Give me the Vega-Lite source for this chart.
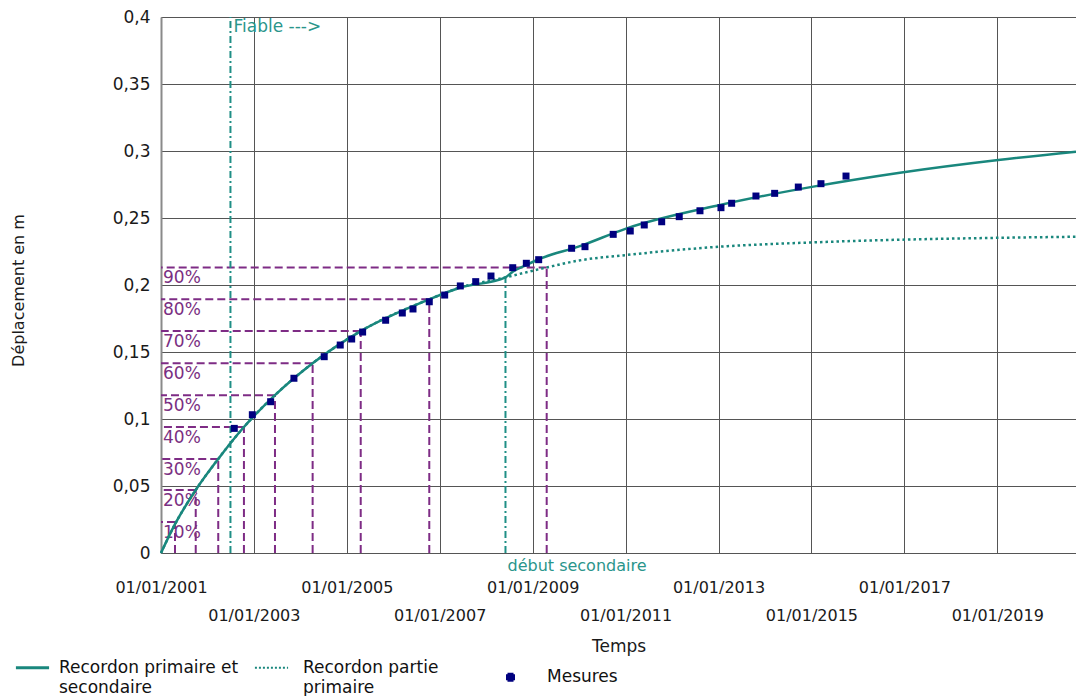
{
  "$schema": "https://vega.github.io/schema/vega-lite/v6.json",
  "width": 915,
  "height": 536,
  "autosize": {"type": "none"},
  "padding": {"left": 161, "top": 17, "right": 0, "bottom": 143},
  "background": "white",
  "config": {
    "font": "DejaVu Sans",
    "view": {"stroke": null},
    "axis": {"labelFont": "DejaVu Sans", "titleFont": "DejaVu Sans", "labelColor": "#1a1a1a", "titleColor": "#1a1a1a", "titleFontWeight": "normal"}
  },
  "datasets": {
    "pct": [
      {"pct": "10%", "date": "2001-04-21", "val": 0.0232},
      {"pct": "20%", "date": "2001-10-01", "val": 0.047},
      {"pct": "30%", "date": "2002-03-27", "val": 0.0702},
      {"pct": "40%", "date": "2002-10-15", "val": 0.094},
      {"pct": "50%", "date": "2003-06-16", "val": 0.1178},
      {"pct": "60%", "date": "2004-04-07", "val": 0.1416},
      {"pct": "70%", "date": "2005-04-20", "val": 0.1656},
      {"pct": "80%", "date": "2006-10-11", "val": 0.1893},
      {"pct": "90%", "date": "2009-04-21", "val": 0.2131}
    ],
    "annot": [
      {"label": "Fiable --->", "date": "2002-07-01", "val": 0.4},
      {"label": "début secondaire", "date": "2008-06-01", "val": 0.2055}
    ],
    "solid": [
      {"date": "2001-01-01", "val": 0, "serie": "Recordon primaire et secondaire"},
      {"date": "2001-04-21", "val": 0.0215, "serie": "Recordon primaire et secondaire"},
      {"date": "2001-10-01", "val": 0.047, "serie": "Recordon primaire et secondaire"},
      {"date": "2002-03-27", "val": 0.0702, "serie": "Recordon primaire et secondaire"},
      {"date": "2002-10-15", "val": 0.094, "serie": "Recordon primaire et secondaire"},
      {"date": "2003-06-16", "val": 0.1178, "serie": "Recordon primaire et secondaire"},
      {"date": "2004-04-07", "val": 0.1416, "serie": "Recordon primaire et secondaire"},
      {"date": "2005-04-20", "val": 0.1656, "serie": "Recordon primaire et secondaire"},
      {"date": "2006-10-11", "val": 0.1893, "serie": "Recordon primaire et secondaire"},
      {"date": "2007-06-01", "val": 0.1978, "serie": "Recordon primaire et secondaire"},
      {"date": "2008-06-01", "val": 0.2057, "serie": "Recordon primaire et secondaire"},
      {"date": "2008-07-28", "val": 0.2099, "serie": "Recordon primaire et secondaire"},
      {"date": "2008-11-12", "val": 0.2149, "serie": "Recordon primaire et secondaire"},
      {"date": "2009-02-17", "val": 0.2192, "serie": "Recordon primaire et secondaire"},
      {"date": "2010-01-01", "val": 0.2288, "serie": "Recordon primaire et secondaire"},
      {"date": "2011-01-10", "val": 0.2423, "serie": "Recordon primaire et secondaire"},
      {"date": "2013-01-12", "val": 0.2597, "serie": "Recordon primaire et secondaire"},
      {"date": "2015-01-16", "val": 0.2734, "serie": "Recordon primaire et secondaire"},
      {"date": "2016-11-27", "val": 0.2838, "serie": "Recordon primaire et secondaire"},
      {"date": "2019-01-09", "val": 0.2933, "serie": "Recordon primaire et secondaire"},
      {"date": "2020-09-11", "val": 0.2995, "serie": "Recordon primaire et secondaire"}
    ],
    "dotted": [
      {"date": "2001-01-01", "val": 0, "serie": "Recordon partie primaire"},
      {"date": "2001-04-21", "val": 0.0215, "serie": "Recordon partie primaire"},
      {"date": "2001-10-01", "val": 0.047, "serie": "Recordon partie primaire"},
      {"date": "2002-03-27", "val": 0.0702, "serie": "Recordon partie primaire"},
      {"date": "2002-10-15", "val": 0.094, "serie": "Recordon partie primaire"},
      {"date": "2003-06-16", "val": 0.1178, "serie": "Recordon partie primaire"},
      {"date": "2004-04-07", "val": 0.1416, "serie": "Recordon partie primaire"},
      {"date": "2005-04-20", "val": 0.1656, "serie": "Recordon partie primaire"},
      {"date": "2006-10-11", "val": 0.1893, "serie": "Recordon partie primaire"},
      {"date": "2007-06-01", "val": 0.1978, "serie": "Recordon partie primaire"},
      {"date": "2008-06-01", "val": 0.2057, "serie": "Recordon partie primaire"},
      {"date": "2009-04-21", "val": 0.2131, "serie": "Recordon partie primaire"},
      {"date": "2010-01-01", "val": 0.2183, "serie": "Recordon partie primaire"},
      {"date": "2011-01-10", "val": 0.2224, "serie": "Recordon partie primaire"},
      {"date": "2013-01-12", "val": 0.2286, "serie": "Recordon partie primaire"},
      {"date": "2015-01-16", "val": 0.2318, "serie": "Recordon partie primaire"},
      {"date": "2016-11-27", "val": 0.2338, "serie": "Recordon partie primaire"},
      {"date": "2019-01-09", "val": 0.2352, "serie": "Recordon partie primaire"},
      {"date": "2020-09-11", "val": 0.236, "serie": "Recordon partie primaire"}
    ],
    "mesures": [
      {"date": "2002-07-31", "val": 0.093, "serie": "Mesures"},
      {"date": "2002-12-20", "val": 0.1032, "serie": "Mesures"},
      {"date": "2003-05-13", "val": 0.1129, "serie": "Mesures"},
      {"date": "2003-11-12", "val": 0.1304, "serie": "Mesures"},
      {"date": "2004-07-07", "val": 0.1465, "serie": "Mesures"},
      {"date": "2004-11-10", "val": 0.1552, "serie": "Mesures"},
      {"date": "2005-02-08", "val": 0.1597, "serie": "Mesures"},
      {"date": "2005-05-05", "val": 0.1649, "serie": "Mesures"},
      {"date": "2005-11-02", "val": 0.1737, "serie": "Mesures"},
      {"date": "2006-03-13", "val": 0.1791, "serie": "Mesures"},
      {"date": "2006-06-05", "val": 0.1821, "serie": "Mesures"},
      {"date": "2006-10-11", "val": 0.1875, "serie": "Mesures"},
      {"date": "2007-02-09", "val": 0.1925, "serie": "Mesures"},
      {"date": "2007-06-12", "val": 0.1993, "serie": "Mesures"},
      {"date": "2007-10-11", "val": 0.2025, "serie": "Mesures"},
      {"date": "2008-02-08", "val": 0.2067, "serie": "Mesures"},
      {"date": "2008-07-28", "val": 0.2129, "serie": "Mesures"},
      {"date": "2008-11-12", "val": 0.2162, "serie": "Mesures"},
      {"date": "2009-02-17", "val": 0.2189, "serie": "Mesures"},
      {"date": "2009-11-03", "val": 0.2274, "serie": "Mesures"},
      {"date": "2010-02-16", "val": 0.2286, "serie": "Mesures"},
      {"date": "2010-09-26", "val": 0.2378, "serie": "Mesures"},
      {"date": "2011-02-07", "val": 0.2403, "serie": "Mesures"},
      {"date": "2011-05-28", "val": 0.2448, "serie": "Mesures"},
      {"date": "2011-10-12", "val": 0.2472, "serie": "Mesures"},
      {"date": "2012-02-27", "val": 0.251, "serie": "Mesures"},
      {"date": "2012-08-08", "val": 0.2554, "serie": "Mesures"},
      {"date": "2013-01-20", "val": 0.2577, "serie": "Mesures"},
      {"date": "2013-04-14", "val": 0.261, "serie": "Mesures"},
      {"date": "2013-10-22", "val": 0.2664, "serie": "Mesures"},
      {"date": "2014-03-18", "val": 0.2684, "serie": "Mesures"},
      {"date": "2014-09-20", "val": 0.2731, "serie": "Mesures"},
      {"date": "2015-03-17", "val": 0.2756, "serie": "Mesures"},
      {"date": "2015-09-30", "val": 0.2813, "serie": "Mesures"}
    ]
  },
  "encoding": {
    "x": {
      "field": "date",
      "type": "temporal",
      "title": "Temps",
      "scale": {
        "type": "utc",
        "domain": [{"year": 2001, "month": 1, "date": 1, "utc": true}, {"year": 2020, "month": 9, "date": 11, "utc": true}]
      },
      "axis": {
        "values": [
          {"year": 2001, "month": 1, "date": 1, "utc": true},
          {"year": 2003, "month": 1, "date": 1, "utc": true},
          {"year": 2005, "month": 1, "date": 1, "utc": true},
          {"year": 2007, "month": 1, "date": 1, "utc": true},
          {"year": 2009, "month": 1, "date": 1, "utc": true},
          {"year": 2011, "month": 1, "date": 1, "utc": true},
          {"year": 2013, "month": 1, "date": 1, "utc": true},
          {"year": 2015, "month": 1, "date": 1, "utc": true},
          {"year": 2017, "month": 1, "date": 1, "utc": true},
          {"year": 2019, "month": 1, "date": 1, "utc": true}
        ],
        "labelExpr": "utcFormat(datum.value, '%d/%m/%Y')",
        "title": "Temps",
        "titleFontSize": 17,
        "titleY": 93,
        "titleBaseline": "middle",
        "labelFontSize": 16,
        "labelOverlap": false,
        "labelFlush": false,
        "labelBound": false,
        "labelBaseline": "top",
        "labelPadding": {"condition": {"test": "utcyear(datum.value) % 4 == 3", "value": 54}, "value": 26},
        "ticks": false,
        "grid": true,
        "gridColor": "#555555",
        "gridWidth": 1,
        "gridOpacity": 1,
        "domainColor": "#555555",
        "domainWidth": 1
      }
    },
    "y": {
      "field": "val",
      "type": "quantitative",
      "title": "Déplacement en m",
      "scale": {"domain": [0, 0.4], "nice": false, "zero": true},
      "axis": {
        "values": [0, 0.05, 0.1, 0.15, 0.2, 0.25, 0.3, 0.35, 0.4],
        "labelExpr": "replace(toString(round(datum.value * 100) / 100), '.', ',')",
        "title": "Déplacement en m",
        "titleFontSize": 16,
        "titleX": -143,
        "titleY": 273,
        "titleAngle": 270,
        "titleAlign": "center",
        "titleBaseline": "middle",
        "labelFontSize": 17,
        "labelPadding": 11,
        "labelOverlap": false,
        "labelFlush": false,
        "ticks": false,
        "grid": true,
        "gridColor": "#555555",
        "gridWidth": 1,
        "gridOpacity": 1,
        "domainColor": "#8a8a8a",
        "domainWidth": 2
      }
    }
  },
  "layer": [
    {
      "data": {"name": "pct"},
      "mark": {"type": "rule", "color": "#7e2c85", "strokeWidth": 2, "strokeDash": [8, 4]},
      "encoding": {
        "x2": {"datum": {"year": 2001, "month": 1, "date": 1, "utc": true}}
      }
    },
    {
      "data": {"name": "pct"},
      "mark": {"type": "rule", "color": "#7e2c85", "strokeWidth": 2, "strokeDash": [8, 4]},
      "encoding": {
        "y": {"datum": 0, "type": "quantitative"},
        "y2": {"field": "val"}
      }
    },
    {
      "data": {"name": "pct"},
      "mark": {"type": "text", "color": "#7a2f82", "fontSize": 17, "align": "left", "baseline": "top", "dx": 2, "dy": 3},
      "encoding": {
        "x": {
          "datum": {"year": 2001, "month": 1, "date": 1, "utc": true},
          "type": "temporal",
          "title": "Temps",
          "axis": {
            "values": [
              {"year": 2001, "month": 1, "date": 1, "utc": true},
              {"year": 2003, "month": 1, "date": 1, "utc": true},
              {"year": 2005, "month": 1, "date": 1, "utc": true},
              {"year": 2007, "month": 1, "date": 1, "utc": true},
              {"year": 2009, "month": 1, "date": 1, "utc": true},
              {"year": 2011, "month": 1, "date": 1, "utc": true},
              {"year": 2013, "month": 1, "date": 1, "utc": true},
              {"year": 2015, "month": 1, "date": 1, "utc": true},
              {"year": 2017, "month": 1, "date": 1, "utc": true},
              {"year": 2019, "month": 1, "date": 1, "utc": true}
            ],
            "labelExpr": "utcFormat(datum.value, '%d/%m/%Y')",
            "title": "Temps",
            "titleFontSize": 17,
            "titleY": 93,
            "titleBaseline": "middle",
            "labelFontSize": 16,
            "labelOverlap": false,
            "labelFlush": false,
            "labelBound": false,
            "labelBaseline": "top",
            "labelPadding": {"condition": {"test": "utcyear(datum.value) % 4 == 3", "value": 54}, "value": 26},
            "ticks": false,
            "grid": true,
            "gridColor": "#555555",
            "gridWidth": 1,
            "gridOpacity": 1,
            "domainColor": "#555555",
            "domainWidth": 1
          }
        },
        "text": {"field": "pct"}
      }
    },
    {
      "data": {"name": "annot"},
      "mark": {"type": "rule", "color": "#1f8f86", "strokeWidth": 2, "strokeDash": [7, 3, 2, 3]},
      "encoding": {
        "y": {"datum": 0, "type": "quantitative"},
        "y2": {"field": "val"}
      }
    },
    {
      "data": {"name": "annot"},
      "transform": [{"filter": "datum.label === 'Fiable --->'"}],
      "mark": {"type": "text", "color": "#2a958b", "fontSize": 17, "align": "left", "baseline": "top", "dx": 3, "dy": 2},
      "encoding": {
        "text": {"field": "label"}
      }
    },
    {
      "data": {"name": "annot"},
      "transform": [{"filter": "datum.label === 'début secondaire'"}],
      "mark": {"type": "text", "color": "#2a958b", "fontSize": 16, "align": "left", "baseline": "top", "dx": 2, "dy": 5},
      "encoding": {
        "y": {"datum": 0, "type": "quantitative"},
        "text": {"field": "label"}
      }
    },
    {
      "data": {"name": "dotted"},
      "mark": {"type": "line", "strokeWidth": 2.5, "strokeDash": [2.5, 3], "interpolate": "monotone"},
      "encoding": {
        "color": {"field": "serie", "type": "nominal"}
      }
    },
    {
      "data": {"name": "solid"},
      "mark": {"type": "line", "strokeWidth": 2.5, "interpolate": "monotone"},
      "encoding": {
        "color": {
          "field": "serie",
          "type": "nominal",
          "scale": {
            "domain": ["Recordon primaire et secondaire", "Recordon partie primaire", "Mesures"],
            "range": ["#19877d", "#19877d", "#00007f"]
          },
          "legend": {
            "orient": "none",
            "legendX": -137,
            "legendY": 642,
            "direction": "horizontal",
            "columns": 3,
            "gridAlign": "all",
            "columnPadding": 11,
            "title": null,
            "padding": 0,
            "symbolSize": 1100,
            "symbolStrokeWidth": 3,
            "labelFont": "DejaVu Sans",
            "labelFontSize": 17,
            "labelColor": "#111111",
            "labelOffset": 18,
            "labelLimit": 400,
            "labelExpr": "datum.label === 'Recordon primaire et secondaire' ? ['Recordon primaire et', 'secondaire'] : datum.label === 'Recordon partie primaire' ? ['Recordon partie', 'primaire'] : datum.label",
            "encode": {
              "labels": {
                "update": {
                  "lineHeight": {"value": 20},
                  "dx": {"signal": "datum.value === 'Mesures' ? 10 : (datum.value === 'Recordon partie primaire' ? 5 : 0)"}
                }
              },
              "symbols": {
                "update": {
                  "shape": {"signal": "datum.value === 'Mesures' ? 'square' : 'stroke'"},
                  "size": {"signal": "datum.value === 'Mesures' ? 36 : 1100"},
                  "fill": {"signal": "datum.value === 'Mesures' ? '#00007f' : 'transparent'"},
                  "stroke": {"signal": "datum.value === 'Mesures' ? 'transparent' : '#19877d'"},
                  "strokeWidth": {"signal": "datum.value === 'Recordon partie primaire' ? 2 : 3"},
                  "strokeDash": {"signal": "datum.value === 'Recordon partie primaire' ? [2, 2] : [1, 0]"},
                  "opacity": {"value": 1}
                }
              }
            }
          }
        }
      }
    },
    {
      "data": {"name": "mesures"},
      "mark": {"type": "point", "shape": "square", "filled": true, "size": 49, "opacity": 1},
      "encoding": {
        "color": {"field": "serie", "type": "nominal"}
      }
    }
  ]
}
